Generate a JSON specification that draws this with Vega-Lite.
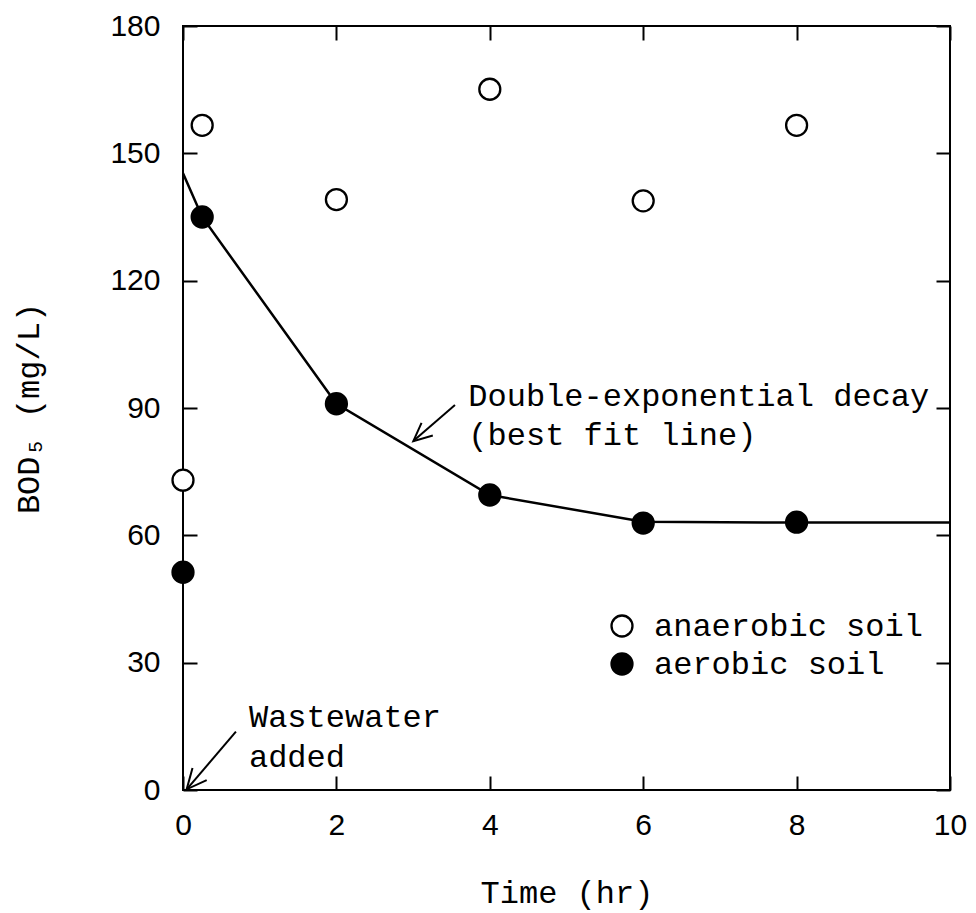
{
  "$schema": "https://vega.github.io/schema/vega-lite/v6.json",
  "width": 767,
  "height": 764,
  "autosize": "none",
  "padding": {"left": 183, "top": 26, "right": 26, "bottom": 123},
  "background": "white",
  "config": {
    "view": {"stroke": "black", "strokeWidth": 2},
    "axis": {"grid": false, "domain": false, "tickColor": "black", "tickWidth": 2, "tickSize": -14, "labelColor": "black", "titleColor": "black"}
  },
  "datasets": {
    "obs": [
      {"soil": "anaerobic soil", "time": 0, "bod": 73},
      {"soil": "anaerobic soil", "time": 0.25, "bod": 156.6},
      {"soil": "anaerobic soil", "time": 2, "bod": 139.1},
      {"soil": "anaerobic soil", "time": 4, "bod": 165.1},
      {"soil": "anaerobic soil", "time": 6, "bod": 138.8},
      {"soil": "anaerobic soil", "time": 8, "bod": 156.6},
      {"soil": "aerobic soil", "time": 0, "bod": 51.3},
      {"soil": "aerobic soil", "time": 0.25, "bod": 135},
      {"soil": "aerobic soil", "time": 2, "bod": 91},
      {"soil": "aerobic soil", "time": 4, "bod": 69.5},
      {"soil": "aerobic soil", "time": 6, "bod": 62.9},
      {"soil": "aerobic soil", "time": 8, "bod": 63.1}
    ],
    "fit": [
      {"time": 0, "bod": 145.3},
      {"time": 0.25, "bod": 135},
      {"time": 2, "bod": 91},
      {"time": 4, "bod": 69.5},
      {"time": 6, "bod": 63.2},
      {"time": 8, "bod": 63.0},
      {"time": 10, "bod": 63.0}
    ],
    "arrows": [
      {"seg": "shaft1", "o": 1, "time": 3.546, "bod": 90.7},
      {"seg": "shaft1", "o": 2, "time": 3.003, "bod": 82.2},
      {"seg": "head1", "o": 1, "time": 3.257, "bod": 83.52},
      {"seg": "head1", "o": 2, "time": 3.003, "bod": 82.2},
      {"seg": "head1", "o": 3, "time": 3.11, "bod": 86.51},
      {"seg": "shaft2", "o": 1, "time": 0.69, "bod": 13.73},
      {"seg": "shaft2", "o": 2, "time": 0.048, "bod": 0.16},
      {"seg": "head2", "o": 1, "time": 0.309, "bod": 2.31},
      {"seg": "head2", "o": 2, "time": 0.048, "bod": 0.16},
      {"seg": "head2", "o": 3, "time": 0.124, "bod": 5.16}
    ],
    "notes": [
      {"label": "Double-exponential decay", "time": 3.72, "bod": 90.47},
      {"label": "(best fit line)", "time": 3.72, "bod": 81.28},
      {"label": "Wastewater", "time": 0.86, "bod": 14.84},
      {"label": "added", "time": 0.86, "bod": 5.42}
    ]
  },
  "layer": [
    {
      "data": {"name": "fit"},
      "mark": {"type": "line", "color": "black", "strokeWidth": 2.5},
      "encoding": {
        "x": {
          "field": "time", "type": "quantitative",
          "scale": {"domain": [0, 10], "nice": false, "zero": false},
          "axis": {
            "orient": "bottom", "values": [0, 2, 4, 6, 8, 10], "labelFlush": false,
            "labelFont": "Liberation Sans", "labelFontSize": 30, "labelPadding": 34,
            "title": "Time (hr)", "titleFont": "Liberation Mono", "titleFontSize": 32,
            "titleFontWeight": "normal", "titleY": 112, "titleBaseline": "alphabetic"
          }
        },
        "y": {
          "field": "bod", "type": "quantitative",
          "scale": {"domain": [0, 180], "nice": false},
          "axis": {
            "orient": "left", "values": [0, 30, 60, 90, 120, 150, 180],
            "labelFont": "Liberation Sans", "labelFontSize": 30, "labelPadding": 37,
            "title": "BOD₅ (mg/L)", "titleFont": "Liberation Mono, DejaVu Sans Mono, monospace", "titleFontSize": 32,
            "titleFontWeight": "normal", "titleX": -155, "titleY": 382, "titleAngle": -90,
            "titleBaseline": "middle", "titleAlign": "center"
          }
        }
      }
    },
    {
      "data": {"name": "arrows"},
      "mark": {"type": "line", "color": "black", "strokeWidth": 2},
      "encoding": {
        "x": {"field": "time", "type": "quantitative", "axis": null},
        "y": {"field": "bod", "type": "quantitative", "axis": null},
        "detail": {"field": "seg", "type": "nominal"},
        "order": {"field": "o", "type": "quantitative"}
      }
    },
    {
      "data": {"name": "obs"},
      "mark": {"type": "point", "shape": "circle", "filled": true, "size": 440, "stroke": "black", "strokeWidth": 2.3, "opacity": 1},
      "encoding": {
        "x": {"field": "time", "type": "quantitative", "axis": null},
        "y": {"field": "bod", "type": "quantitative", "axis": null},
        "fill": {
          "field": "soil", "type": "nominal",
          "scale": {"domain": ["anaerobic soil", "aerobic soil"], "range": ["white", "black"]},
          "legend": {
            "title": null, "orient": "none", "legendX": 423, "legendY": 584,
            "padding": 0, "symbolType": "circle", "symbolSize": 440,
            "symbolStrokeColor": "black", "symbolStrokeWidth": 2.3, "symbolOpacity": 1,
            "labelFont": "Liberation Mono", "labelFontSize": 32, "labelColor": "black",
            "labelOffset": 16, "rowPadding": 6, "labelLimit": 400
          }
        }
      }
    },
    {
      "data": {"name": "notes"},
      "mark": {"type": "text", "font": "Liberation Mono", "fontSize": 32, "color": "black", "align": "left", "baseline": "alphabetic"},
      "encoding": {
        "x": {"field": "time", "type": "quantitative", "axis": {"orient": "top", "values": [0, 2, 4, 6, 8, 10], "labels": false, "title": null}},
        "y": {"field": "bod", "type": "quantitative", "axis": {"orient": "right", "values": [0, 30, 60, 90, 120, 150, 180], "labels": false, "title": null}},
        "text": {"field": "label"}
      }
    }
  ],
  "resolve": {"axis": {"x": "independent", "y": "independent"}}
}
